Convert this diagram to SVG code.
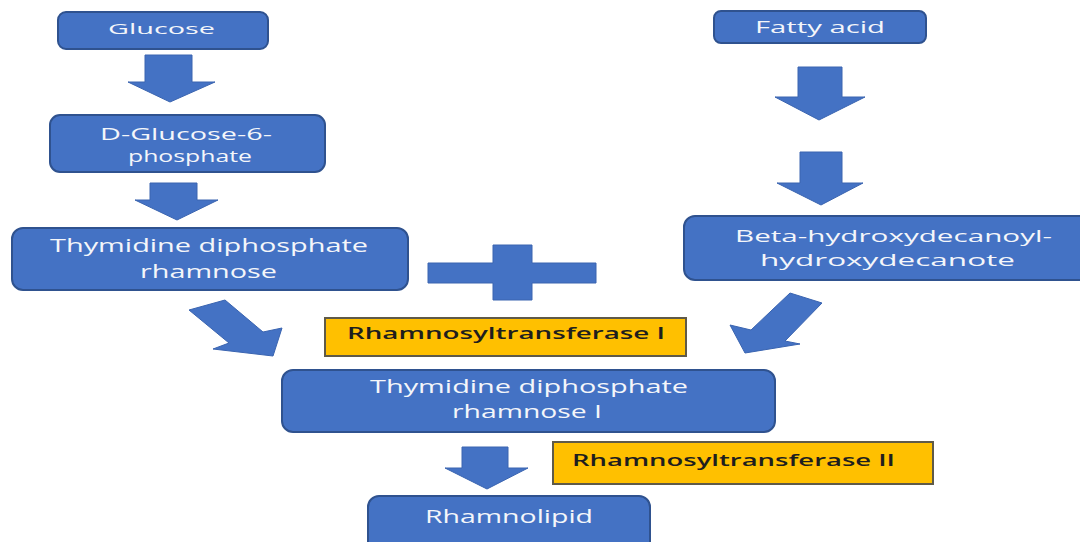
<svg xmlns="http://www.w3.org/2000/svg" width="1080" height="542" viewBox="0 0 1080 542">
<style>
.box{fill:#4472C4;stroke:#2F528F;stroke-width:2}
.enz{fill:#FFC000;stroke:#5f5a48;stroke-width:2}
.arr{fill:#4472C4;stroke:#3a64b0;stroke-width:1}
.t{font-family:"Open Sans","Noto Sans","DejaVu Sans",sans-serif;fill:#f4f6fa}
.e{font-family:"Open Sans","Noto Sans","DejaVu Sans",sans-serif;fill:#1e1e1e;font-weight:600}
</style>
<rect width="1080" height="542" fill="#ffffff"/>
<g id="connectors">
<polygon class="arr" points="145,55 192,55 192,82 215,82 170,102 128,82 145,82"/>
<polygon class="arr" points="150,183 197,183 197,200 218,200 177,220 135,200 150,200"/>
<polygon class="arr" points="798,67 842,67 842,97 865,97 819,120 775,97 798,97"/>
<polygon class="arr" points="800,152 842,152 842,183 863,183 821,205 777,183 800,183"/>
<polygon class="arr" points="462,447 508,447 508,468 528,468 487,489 445,468 462,468"/>
<polygon class="arr" points="189,310 225,300 263,332 282,328 273,356 213,349 229,343"/>
<polygon class="arr" points="790,293 822,303 785,341 800,344 745,353 730,325 751,330"/>
<polygon id="plus" class="arr" points="493,245 532,245 532,263 596,263 596,283 532,283 532,300 493,300 493,283 428,283 428,263 493,263"/>
</g>
<g id="glucose">
<rect class="box" x="58" y="12" width="210" height="37" rx="8"/>
<text class="t" x="108" y="34" font-size="15" textLength="107" lengthAdjust="spacingAndGlyphs">Glucose</text>
</g>
<g id="g6p">
<rect class="box" x="50" y="115" width="275" height="57" rx="10"/>
<text class="t" x="100" y="140" font-size="17" textLength="172" lengthAdjust="spacingAndGlyphs">D-Glucose-6-</text>
<text class="t" x="128" y="162" font-size="17" textLength="124" lengthAdjust="spacingAndGlyphs">phosphate</text>
</g>
<g id="tdr">
<rect class="box" x="12" y="228" width="396" height="62" rx="11"/>
<text class="t" x="50" y="252" font-size="18" textLength="318" lengthAdjust="spacingAndGlyphs">Thymidine diphosphate</text>
<text class="t" x="140" y="278" font-size="18" textLength="137" lengthAdjust="spacingAndGlyphs">rhamnose</text>
</g>
<g id="fatty">
<rect class="box" x="714" y="11" width="212" height="32" rx="7"/>
<text class="t" x="755" y="33" font-size="16" textLength="130" lengthAdjust="spacingAndGlyphs">Fatty acid</text>
</g>
<g id="beta">
<rect class="box" x="684" y="216" width="410" height="64" rx="11"/>
<text class="t" x="735" y="242" font-size="17" textLength="317" lengthAdjust="spacingAndGlyphs">Beta-hydroxydecanoyl-</text>
<text class="t" x="760" y="266" font-size="17" textLength="255" lengthAdjust="spacingAndGlyphs">hydroxydecanote</text>
</g>
<g id="rt1">
<rect class="enz" x="325" y="318" width="361" height="38"/>
<text class="e" x="347" y="339" font-size="17" textLength="318" lengthAdjust="spacingAndGlyphs">Rhamnosyltransferase I</text>
</g>
<g id="tdr1">
<rect class="box" x="282" y="370" width="493" height="62" rx="11"/>
<text class="t" x="370" y="393" font-size="18" textLength="318" lengthAdjust="spacingAndGlyphs">Thymidine diphosphate</text>
<text class="t" x="452" y="418" font-size="18" textLength="150" lengthAdjust="spacingAndGlyphs">rhamnose I</text>
</g>
<g id="rt2">
<rect class="enz" x="553" y="442" width="380" height="42"/>
<text class="e" x="572" y="466" font-size="17" textLength="323" lengthAdjust="spacingAndGlyphs">Rhamnosyltransferase II</text>
</g>
<g id="rhamnolipid">
<rect class="box" x="368" y="496" width="282" height="70" rx="11"/>
<text class="t" x="425" y="523" font-size="18" textLength="168" lengthAdjust="spacingAndGlyphs">Rhamnolipid</text>
</g>
</svg>
